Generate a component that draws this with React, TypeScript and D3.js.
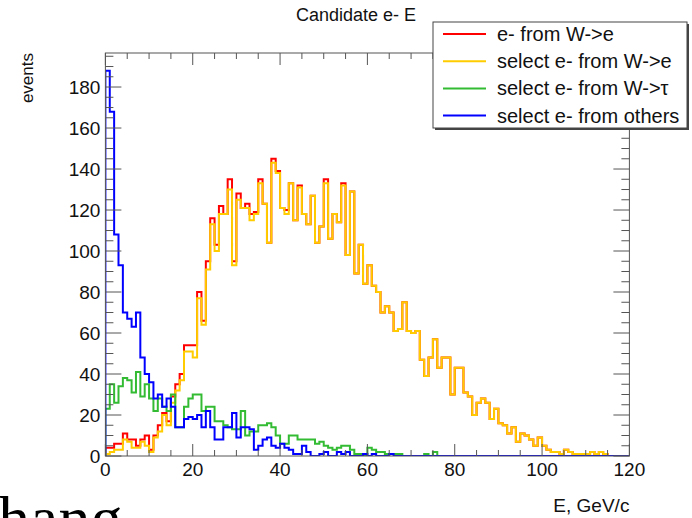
import React from "react";
import * as d3 from "d3";

// ---- data (120 bins of 1 GeV, 0..120) ----
const binEdges: number[] = Array.from({ length: 121 }, (_, i) => i);

const eFromWe: number[] = [
  4, 4, 6, 6, 11, 8, 8, 5, 8, 10,
  3, 10, 15, 21, 17, 29, 35, 40, 54, 54,
  54, 80, 66, 95, 116, 103, 122, 118, 135, 95,
  128, 121, 123, 118, 119, 135, 123, 104, 145, 139,
  121, 120, 133, 115, 132, 118, 113, 127, 104, 112,
  135, 106, 118, 114, 133, 98, 129, 89, 103, 84,
  93, 83, 80, 70, 73, 70, 61, 62, 75, 61,
  60, 61, 47, 39, 48, 57, 43, 48, 48, 30,
  43, 43, 31, 29, 20, 26, 28, 26, 18, 23,
  16, 15, 11, 14, 7, 11, 10, 8, 5, 9,
  5, 3, 2, 2, 1, 3, 2, 1, 1, 1,
  1, 2, 1, 2, 1, 0, 0, 0, 0, 0,
];

const selWe: number[] = [
  1, 2, 3, 3, 8, 7, 4, 4, 7, 5,
  2, 9, 12, 20, 15, 26, 32, 37, 51, 51,
  48, 77, 64, 91, 113, 100, 118, 118, 130, 93,
  125, 121, 121, 115, 118, 133, 123, 104, 143, 138,
  121, 118, 133, 115, 131, 118, 113, 127, 104, 112,
  133, 106, 118, 114, 132, 98, 129, 89, 103, 84,
  93, 83, 80, 70, 73, 70, 61, 62, 75, 61,
  60, 61, 47, 39, 48, 57, 43, 48, 48, 30,
  43, 43, 31, 29, 20, 26, 28, 26, 18, 23,
  16, 15, 11, 14, 7, 11, 10, 8, 5, 9,
  5, 3, 2, 2, 1, 3, 2, 1, 1, 1,
  1, 2, 1, 2, 1, 0, 0, 0, 0, 0,
];

const selWtau: number[] = [
  23, 35, 26, 34, 38, 37, 31, 41, 29, 35,
  28, 22, 28, 24, 22, 30, 14, 14, 24, 28,
  30, 30, 22, 24, 24, 17, 17, 15, 14, 13,
  13, 22, 10, 12, 12, 15, 15, 16, 14, 10,
  6, 6, 10, 10, 8, 8, 8, 8, 6, 7,
  5, 4, 3, 4, 5, 5, 3, 1, 1, 0,
  4, 3, 2, 2, 1, 1, 1, 1, 0, 0,
  0, 0, 0, 1, 0, 2, 0, 0, 0, 0,
  0, 0, 0, 0, 0, 0, 0, 0, 0, 0,
  0, 0, 0, 0, 0, 0, 0, 0, 0, 0,
  0, 0, 0, 0, 0, 0, 0, 0, 0, 0,
  0, 0, 0, 0, 0, 0, 0, 0, 0, 0,
];

const selOthers: number[] = [
  188, 168, 108, 93, 70, 67, 63, 70, 48, 40,
  36, 28, 30, 24, 28, 24, 14, 14, 18, 19,
  18, 20, 14, 22, 14, 8, 8, 14, 14, 21,
  9, 14, 14, 13, 3, 5, 8, 9, 5, 4,
  6, 4, 3, 1, 1, 5, 2, 0, 0, 1,
  2, 0, 0, 2, 1, 2, 0, 0, 0, 1,
  0, 1, 0, 0, 0, 1, 0, 0, 0, 0,
  0, 0, 0, 0, 0, 0, 0, 0, 0, 0,
  0, 0, 0, 0, 0, 0, 0, 0, 0, 0,
  0, 0, 0, 0, 0, 0, 0, 0, 0, 0,
  0, 0, 0, 0, 0, 0, 0, 0, 0, 0,
  0, 0, 0, 0, 0, 0, 0, 0, 0, 0,
];

const seriesNames: string[] = [
  "e- from W->e",
  "select e- from W->e",
  "select e- from W->\u03c4",
  "select e- from others",
];
const seriesColors: string[] = ["#ff0000", "#ffcc00", "#33bb33", "#0000ff"];

const xMajorTicks: number[] = [0, 20, 40, 60, 80, 100, 120];
const yMajorTicks: number[] = [0, 20, 40, 60, 80, 100, 120, 140, 160, 180];

const titleText = "Candidate e- E";
const xLabel = "E, GeV/c";
const yLabel = "events";
const pageFragment = "hang";

// ---- layout ----
const W = 692;
const H = 518;
const FL = 105.4;
const FR = 629.4;
const FT = 53;
const FB = 456;
const FONT = "'Liberation Sans', Arial, Helvetica, sans-serif";

export default function App() {
  const x = d3.scaleLinear().domain([0, 120]).range([FL, FR]);
  const y = d3.scaleLinear().domain([0, 196.6]).range([FB, FT]);

  const line = d3
    .line<[number, number]>()
    .x((d) => x(d[0]))
    .y((d) => y(d[1]));

  const stepPoints = (vals: number[]): [number, number][] => {
    const pts: [number, number][] = [[binEdges[0], 0]];
    vals.forEach((v, i) => {
      pts.push([binEdges[i], v]);
      pts.push([binEdges[i + 1], v]);
    });
    pts.push([binEdges[binEdges.length - 1], 0]);
    return pts;
  };

  const series = [eFromWe, selWe, selWtau, selOthers];

  const xMinor = d3.range(0, 120.001, 5);
  const yMinor = d3.range(0, 196, 5);
  const tickColor = "#555";

  const legX = 433;
  const legY = 22;
  const legW = 254;
  const legH = 106;
  const rowH = 27.2;

  return (
    <svg
      width={W}
      height={H}
      style={{ position: "absolute", left: 0, top: 0, display: "block", background: "#fff" }}
      fontFamily={FONT}
    >
      <rect x={0} y={0} width={W} height={H} fill="#fff" />
      <defs>
        <clipPath id="frameClip">
          <rect x={FL} y={FT - 2} width={FR - FL} height={FB - FT + 2} />
        </clipPath>
      </defs>

      {/* histograms */}
      <g clipPath="url(#frameClip)" fill="none" strokeWidth={2} strokeLinejoin="miter">
        {series.map((vals, i) => (
          <path key={i} d={line(stepPoints(vals)) || ""} stroke={seriesColors[i]} />
        ))}
      </g>

      {/* frame */}
      <rect x={FL} y={FT} width={FR - FL} height={FB - FT} fill="none" stroke={tickColor} strokeWidth={1} />

      {/* x ticks bottom & top */}
      {xMinor.map((t) => {
        const major = t % 20 === 0;
        const len = major ? 12 : 6;
        return (
          <g key={"xt" + t} stroke={tickColor} strokeWidth={1}>
            <line x1={x(t)} x2={x(t)} y1={FB} y2={FB - len} />
            <line x1={x(t)} x2={x(t)} y1={FT} y2={FT + len} />
          </g>
        );
      })}
      {/* y ticks left & right */}
      {yMinor.map((t) => {
        const major = t % 20 === 0;
        const len = major ? 16 : 8;
        return (
          <g key={"yt" + t} stroke={tickColor} strokeWidth={1}>
            <line x1={FL} x2={FL + len} y1={y(t)} y2={y(t)} />
            <line x1={FR} x2={FR - len} y1={y(t)} y2={y(t)} />
          </g>
        );
      })}

      {/* tick labels */}
      {xMajorTicks.map((t) => (
        <text key={"xl" + t} x={x(t)} y={FB + 20} textAnchor="middle" fontSize={19} fill="#111">
          {t}
        </text>
      ))}
      {yMajorTicks.map((t) => (
        <text key={"yl" + t} x={FL - 5} y={y(t) + 7} textAnchor="end" fontSize={19} fill="#111">
          {t}
        </text>
      ))}

      {/* axis titles */}
      <text x={FR} y={512} textAnchor="end" fontSize={19} fill="#111">
        {xLabel}
      </text>
      <text
        transform={`translate(33, ${FT}) rotate(-90)`}
        textAnchor="end"
        fontSize={17}
        fill="#111"
      >
        {yLabel}
      </text>

      {/* title */}
      <text x={356} y={21} textAnchor="middle" fontSize={18} fill="#111">
        {titleText}
      </text>

      {/* legend */}
      <rect x={legX + 2} y={legY + 2} width={legW} height={legH} fill="#444" />
      <rect x={legX} y={legY} width={legW} height={legH} fill="#fff" stroke="#444" strokeWidth={1} />
      {seriesNames.map((name, i) => {
        const cy = legY + 12 + rowH * i;
        return (
          <g key={"lg" + i}>
            <line x1={443} x2={486} y1={cy} y2={cy} stroke={seriesColors[i]} strokeWidth={2} />
            <text x={497} y={cy + 7} fontSize={20} fill="#111">
              {name}
            </text>
          </g>
        );
      })}

      {/* stray page text at the bottom */}
      <text x={-2} y={540} fontSize={64} fontFamily="'Liberation Serif', 'DejaVu Serif', serif" fill="#000">
        {pageFragment}
      </text>
    </svg>
  );
}
